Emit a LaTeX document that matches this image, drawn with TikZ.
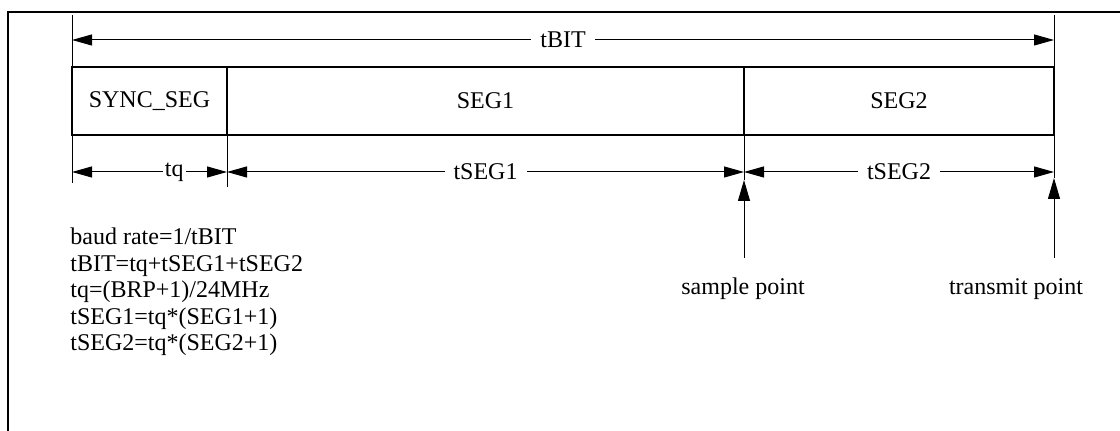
\documentclass[tikz,border=0pt]{standalone}
\usepackage{fontspec}
\setmainfont{Liberation Serif}
\usetikzlibrary{arrows.meta,positioning,calc}
\tikzset{
  seg/.style={draw, line width=1pt, minimum height=34pt, inner sep=0pt, outer sep=0pt},
  ext/.style={line width=0.5pt},
  dim/.style={line width=0.5pt, {Triangle[length=10pt,width=5.5pt]}-{Triangle[length=10pt,width=5.5pt]}},
  up/.style={line width=0.5pt, -{Triangle[length=10.5pt,width=6pt]}},
  lbl/.style={fill=white, inner xsep=4.5pt, inner ysep=1pt},
  formula/.style={anchor=base west, inner sep=0pt},
  point/.style={anchor=north, inner xsep=0pt, inner ysep=10pt, text height=8.2pt, text depth=2.6pt}
}
\begin{document}
\begin{tikzpicture}[x=0.5pt, y=-0.5pt, font=\fontsize{12}{14}\selectfont]
      \useasboundingbox (0, 0) rectangle (1120, 431);
      \draw[line width=1pt] (8, 431) -- (8, 12) -- (1120, 12);
      % bit segments
      \node[seg, minimum width=77.5pt, anchor=north west] (sync) at (72, 67) {SYNC\_SEG};
      \node[seg, minimum width=258.5pt, right=0pt of sync] (seg1) {SEG1};
      \node[seg, minimum width=155pt, right=0pt of seg1] (seg2) {SEG2};
      % extension lines
      \draw[ext] (sync.north west) ++(0, -52) -- ++(0, 168);
      \draw[ext] (sync.south east) -- ++(0, 52);
      \draw[ext] (seg1.south east) -- ++(0, 45);
      \draw[ext] (seg2.north east) ++(0, -52) -- ++(0, 163);
      \coordinate (bitL) at ($(sync.north west) + (0, -27)$);
      \coordinate (bitR) at ($(seg2.north east) + (0, -27)$);
      \coordinate (d0) at ($(sync.south west) + (0, 37)$);
      \coordinate (d1) at ($(sync.south east) + (0, 37)$);
      \coordinate (d2) at ($(seg1.south east) + (0, 37)$);
      \coordinate (d3) at ($(seg2.south east) + (0, 37)$);
      \draw[dim] (bitL) -- node[lbl] {tBIT} (bitR);
      \draw[dim] (d0) -- node[lbl, pos=0.66, inner xsep=1pt] {tq} (d1);
      \draw[dim] (d1) -- node[lbl] {tSEG1} (d2);
      \draw[dim] (d2) -- node[lbl] {tSEG2} (d3);
      % sample and transmit points
      \coordinate (spTip) at ($(seg1.south east) + (0, 45)$);
      \coordinate (tpTip) at ($(seg2.south east) + (0, 43)$);
      \node[point] (sp) at (743, 258) {sample point};
      \node[point] (tp) at (1016, 258) {transmit point};
      \draw[up] (sp.north -| spTip) -- (spTip);
      \draw[up] (tp.north -| tpTip) -- (tpTip);
      % formulas
      \draw (70, 245) node[formula] {baud rate=1/tBIT}
            (70, 271.5) node[formula] {tBIT=tq+tSEG1+tSEG2}
            (70, 298) node[formula] {tq=(BRP+1)/24MHz}
            (70, 324.5) node[formula] {tSEG1=tq*(SEG1+1)}
            (70, 351) node[formula] {tSEG2=tq*(SEG2+1)};
\end{tikzpicture}
\end{document}
